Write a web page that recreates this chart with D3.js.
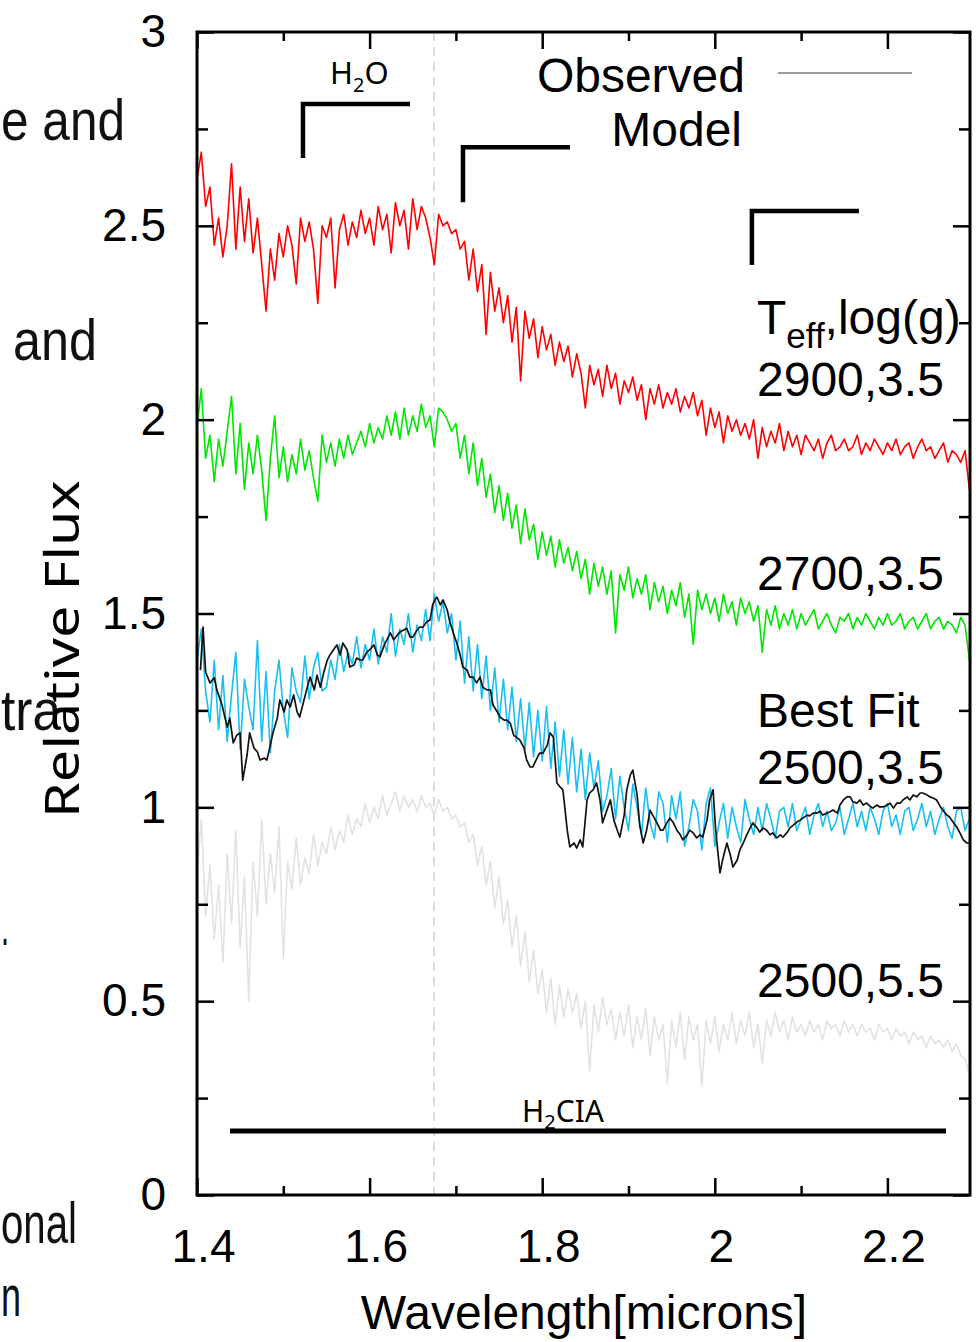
<!DOCTYPE html>
<html><head><meta charset="utf-8">
<script src="https://cdn.jsdelivr.net/npm/d3@7"></script>
<style>body{margin:0;background:#fff}svg{display:block}</style>
</head><body>
<svg id="c" width="976" height="1342"></svg>
<script>
// ---- data ----
const waveStart = 1.40, waveStep = 0.005, nPts = 180;
const wave = d3.range(nPts).map(i => +(waveStart + i * waveStep).toFixed(3));

const model2900_35 = [
2.62,2.69,2.55,2.60,2.45,2.52,2.42,2.50,2.66,2.44,
2.60,2.46,2.57,2.43,2.52,2.40,2.28,2.44,2.36,2.48,
2.42,2.50,2.45,2.35,2.52,2.46,2.51,2.44,2.30,2.50,
2.47,2.52,2.34,2.49,2.53,2.45,2.51,2.47,2.54,2.48,
2.52,2.45,2.55,2.49,2.53,2.43,2.56,2.50,2.54,2.44,
2.57,2.49,2.55,2.52,2.47,2.40,2.53,2.50,2.51,2.48,
2.49,2.44,2.46,2.36,2.44,2.33,2.40,2.22,2.38,2.28,
2.34,2.25,2.32,2.20,2.29,2.10,2.28,2.21,2.26,2.16,
2.24,2.18,2.22,2.14,2.20,2.15,2.19,2.11,2.17,2.12,
2.03,2.14,2.09,2.13,2.06,2.14,2.08,2.12,2.04,2.10,
2.07,2.11,2.05,2.09,2.00,2.08,2.04,2.09,2.03,2.07,
2.04,2.08,2.02,2.06,2.03,2.07,2.01,2.05,1.96,2.03,
1.98,2.02,1.94,2.01,1.97,2.00,1.96,1.99,1.95,2.00,
1.90,1.98,1.93,1.97,1.94,1.99,1.92,1.97,1.93,1.96,
1.91,1.96,1.94,1.92,1.95,1.90,1.94,1.96,1.92,1.93,
1.95,1.92,1.93,1.96,1.91,1.94,1.92,1.95,1.93,1.91,
1.94,1.92,1.95,1.91,1.93,1.94,1.90,1.93,1.95,1.92,
1.93,1.90,1.92,1.94,1.89,1.92,1.91,1.89,1.92,1.82];

const model2700_35 = [
1.98,2.08,1.90,1.96,1.84,1.95,1.88,1.97,2.06,1.86,
1.99,1.82,1.94,1.86,1.96,1.87,1.74,1.90,2.01,1.85,
1.93,1.84,1.91,1.86,1.95,1.87,1.92,1.85,1.79,1.96,
1.89,1.94,1.88,1.95,1.90,1.96,1.91,1.94,1.97,1.93,
1.99,1.94,1.98,1.95,2.01,1.96,2.02,1.95,2.03,1.96,
2.01,1.97,2.04,1.98,2.01,1.93,2.03,2.02,2.00,1.97,
1.99,1.90,1.96,1.86,1.94,1.83,1.90,1.80,1.86,1.76,
1.83,1.74,1.81,1.72,1.78,1.68,1.77,1.69,1.73,1.64,
1.71,1.65,1.70,1.62,1.69,1.63,1.67,1.61,1.66,1.59,
1.64,1.55,1.63,1.57,1.62,1.55,1.61,1.45,1.60,1.56,
1.62,1.54,1.59,1.55,1.60,1.51,1.58,1.53,1.57,1.50,
1.56,1.52,1.58,1.49,1.55,1.42,1.56,1.51,1.55,1.50,
1.54,1.48,1.55,1.50,1.53,1.47,1.54,1.50,1.53,1.48,
1.52,1.40,1.51,1.47,1.52,1.46,1.50,1.47,1.51,1.46,
1.50,1.47,1.49,1.51,1.46,1.48,1.50,1.47,1.45,1.49,
1.48,1.50,1.46,1.49,1.47,1.50,1.48,1.46,1.49,1.47,
1.50,1.47,1.48,1.50,1.46,1.48,1.49,1.46,1.48,1.50,
1.46,1.48,1.49,1.46,1.48,1.47,1.45,1.49,1.47,1.38];

const model2500_35 = [
1.38,1.46,1.30,1.22,1.38,1.20,1.34,1.17,1.29,1.40,
1.15,1.33,1.26,1.20,1.43,1.17,1.35,1.14,1.30,1.38,
1.25,1.18,1.36,1.30,1.27,1.39,1.28,1.36,1.40,1.30,
1.31,1.38,1.33,1.42,1.35,1.40,1.37,1.44,1.36,1.42,
1.38,1.46,1.37,1.44,1.40,1.50,1.39,1.46,1.42,1.50,
1.40,1.47,1.43,1.51,1.43,1.55,1.48,1.53,1.45,1.50,
1.38,1.48,1.32,1.44,1.30,1.42,1.28,1.39,1.25,1.36,
1.22,1.33,1.20,1.31,1.17,1.28,1.15,1.27,1.13,1.25,
1.12,1.26,1.10,1.22,1.08,1.20,1.06,1.18,1.04,1.15,
1.02,1.14,1.05,1.12,0.99,1.03,1.10,0.97,1.08,1.00,
0.94,1.06,1.00,0.93,1.05,0.96,0.92,1.04,1.01,0.91,
1.03,0.97,1.04,0.90,0.95,1.02,0.99,0.89,1.01,1.05,
0.90,0.96,1.01,0.92,1.00,0.95,0.91,1.02,0.97,0.93,
1.00,0.94,1.01,0.97,0.92,0.99,1.00,0.95,1.01,0.94,
0.97,1.00,0.93,0.98,1.01,0.95,0.99,0.94,0.96,1.00,
0.93,0.97,1.01,0.95,0.99,0.94,1.00,0.97,0.93,0.99,
1.01,0.95,0.98,0.93,0.99,1.00,0.94,0.97,1.01,0.95,
0.99,0.93,0.97,1.00,0.95,0.92,0.99,1.00,0.94,0.97];

const model2500_55 = [
0.82,0.97,0.72,0.85,0.66,0.80,0.60,0.88,0.70,0.94,
0.64,0.82,0.50,0.86,0.72,0.97,0.75,0.88,0.78,0.95,
0.61,0.86,0.79,0.92,0.80,0.87,0.83,0.93,0.85,0.91,
0.88,0.95,0.89,0.94,0.91,0.98,0.93,0.97,0.95,1.01,
0.96,1.00,0.97,1.03,0.98,1.01,1.04,0.99,1.03,1.00,
1.02,0.99,1.03,1.00,1.01,0.98,1.02,0.99,1.00,0.97,
0.98,0.95,0.96,0.91,0.93,0.85,0.90,0.80,0.86,0.74,
0.82,0.70,0.76,0.64,0.72,0.59,0.68,0.55,0.63,0.52,
0.58,0.47,0.56,0.44,0.54,0.46,0.53,0.47,0.52,0.43,
0.50,0.32,0.49,0.42,0.51,0.44,0.48,0.40,0.47,0.41,
0.49,0.38,0.46,0.40,0.48,0.36,0.46,0.40,0.44,0.29,
0.45,0.38,0.47,0.35,0.46,0.40,0.44,0.28,0.45,0.39,
0.46,0.37,0.44,0.40,0.47,0.39,0.45,0.41,0.47,0.38,
0.44,0.34,0.45,0.41,0.47,0.42,0.45,0.40,0.46,0.42,
0.44,0.41,0.45,0.42,0.44,0.40,0.45,0.43,0.44,0.41,
0.45,0.42,0.44,0.41,0.44,0.42,0.43,0.40,0.44,0.42,
0.43,0.40,0.43,0.41,0.42,0.39,0.42,0.40,0.41,0.38,
0.41,0.39,0.40,0.38,0.40,0.37,0.39,0.36,0.35,0.31];

const obsWave = [
1.404,1.407,1.410,1.415,1.420,1.423,1.429,1.435,1.438,1.442,1.446,1.450,1.453,1.458,1.461,1.466,1.470,1.473,1.478,1.481,
1.485,1.488,1.493,1.496,1.501,1.504,1.508,1.512,1.516,1.519,1.524,1.527,1.531,1.536,1.539,1.543,1.547,1.551,1.554,1.558,
1.562,1.566,1.569,1.574,1.577,1.582,1.585,1.589,1.592,1.597,1.600,1.605,1.609,1.612,1.617,1.620,1.624,1.628,1.632,1.635,
1.639,1.643,1.647,1.650,1.655,1.658,1.662,1.666,1.670,1.673,1.677,1.678,1.682,1.685,1.690,1.693,1.697,1.701,1.705,1.708,
1.713,1.716,1.720,1.724,1.728,1.731,1.736,1.740,1.743,1.748,1.751,1.756,1.759,1.763,1.767,1.771,1.774,1.779,1.782,1.786,
1.789,1.794,1.797,1.801,1.806,1.809,1.813,1.817,1.821,1.824,1.829,1.832,1.837,1.840,1.844,1.847,1.852,1.855,1.859,1.863,
1.867,1.870,1.875,1.879,1.883,1.887,1.890,1.895,1.898,1.902,1.905,1.910,1.913,1.917,1.921,1.925,1.928,1.933,1.937,1.940,
1.945,1.948,1.952,1.956,1.960,1.963,1.968,1.971,1.975,1.979,1.983,1.986,1.991,1.994,1.998,2.001,2.006,2.009,2.014,2.018,
2.021,2.026,2.029,2.033,2.037,2.041,2.044,2.049,2.052,2.056,2.060,2.064,2.067,2.072,2.076,2.079,2.084,2.087,2.091,2.095,
2.099,2.102,2.107,2.110,2.114,2.118,2.122,2.125,2.130,2.133,2.137,2.142,2.145,2.149,2.153,2.157,2.160,2.165,2.168,2.172,
2.176,2.180,2.183,2.188,2.191,2.195,2.200,2.203,2.207,2.211,2.215,2.218,2.223,2.226,2.230,2.234,2.238,2.241,2.246,2.249,
2.253,2.257,2.261,2.264,2.269,2.272,2.276,2.281,2.284,2.288,2.292,2.296];

const obsFlux = [
1.354,1.465,1.349,1.321,1.334,1.303,1.264,1.207,1.230,1.166,1.186,1.192,1.070,1.135,1.192,1.153,1.143,1.122,1.127,1.122,
1.161,1.192,1.230,1.277,1.246,1.277,1.259,1.290,1.246,1.233,1.277,1.303,1.336,1.303,1.341,1.310,1.349,1.380,1.393,1.406,
1.419,1.393,1.424,1.406,1.362,1.367,1.385,1.380,1.380,1.401,1.406,1.419,1.393,1.388,1.419,1.432,1.450,1.432,1.444,1.452,
1.457,1.462,1.439,1.439,1.457,1.465,1.465,1.478,1.483,1.522,1.540,1.542,1.522,1.535,1.509,1.478,1.450,1.424,1.393,1.362,
1.354,1.336,1.336,1.321,1.336,1.310,1.303,1.303,1.264,1.246,1.233,1.225,1.225,1.217,1.186,1.179,1.174,1.153,1.122,1.104,
1.104,1.127,1.140,1.140,1.161,1.192,1.181,1.063,1.052,1.045,0.941,0.898,0.908,0.895,0.916,0.898,1.019,1.037,1.045,1.063,
1.019,0.960,0.993,1.019,0.967,0.941,0.923,0.980,1.045,1.083,1.096,1.032,0.954,0.908,0.941,0.993,0.980,0.960,0.941,0.941,
0.962,0.972,0.960,0.941,0.929,0.916,0.929,0.941,0.934,0.921,0.929,0.923,0.967,1.019,1.045,0.941,0.831,0.864,0.908,0.877,
0.846,0.864,0.890,0.908,0.929,0.947,0.960,0.947,0.936,0.947,0.941,0.929,0.934,0.921,0.929,0.923,0.936,0.947,0.954,0.962,
0.967,0.972,0.980,0.978,0.985,0.985,0.990,0.980,0.985,0.988,0.993,0.985,1.006,1.019,1.027,1.027,1.014,1.011,1.019,1.006,
1.011,1.003,0.998,1.006,1.001,1.001,1.006,1.011,0.998,1.011,1.011,1.019,1.027,1.019,1.032,1.027,1.037,1.037,1.032,1.027,
1.024,1.019,1.003,0.993,0.980,0.975,0.962,0.947,0.934,0.916,0.908,0.908];

const xMajor = [1.4, 1.6, 1.8, 2.0, 2.2];
const xMinor = [1.5, 1.7, 1.9, 2.1];
const yMajor = [0, 0.5, 1, 1.5, 2, 2.5, 3];
const yMinor = [0.25, 0.75, 1.25, 1.75, 2.25, 2.75];

const peakWave = 1.6746;
const h2oBands = [[1.5228, 1.6468, 2.814, 2.675], [1.7082, 1.8322, 2.703, 2.561], [2.043, 2.167, 2.538, 2.399]];
const ciaBand = [1.4382, 2.2679, 0.165];

const modelLabels = [["2900,3.5", 396], ["2700,3.5", 590], ["Best Fit", 727], ["2500,3.5", 784], ["2500,5.5", 997]];

// ---- drawing ----
const svg = d3.select("#c");
const L = 197, R = 970, T = 32, B = 1195;
const x = d3.scaleLinear().domain([1.4, 2.3]).range([197, 973.7]);
const y = d3.scaleLinear().domain([0, 3]).range([B, T]);
const sans = "'Liberation Sans', Arial, Helvetica, sans-serif";
const noto = "'Noto Sans', 'Open Sans', sans-serif";

svg.append("rect").attr("width", 976).attr("height", 1342).attr("fill", "#fff");

// background text fragments on the left (kept inside the picture)
const frag = [["e and", 1, 140, 124], ["and", 13, 360, 84], ["tra", 1, 730, 60], [".", 1, 945, 8], ["onal", 1, 1243, 76], ["n", 1, 1316, 20]];
svg.append("g").selectAll("text").data(frag).join("text")
  .attr("x", d => d[1]).attr("y", d => d[2])
  .attr("textLength", d => d[3]).attr("lengthAdjust", "spacingAndGlyphs")
  .attr("font-family", sans).attr("font-size", 58).attr("fill", "#111")
  .text(d => d[0]);

svg.append("defs").append("clipPath").attr("id", "plotclip")
  .append("rect").attr("x", L).attr("y", T).attr("width", R - L).attr("height", B - T);

// dashed reference line
svg.append("line").attr("x1", x(peakWave)).attr("x2", x(peakWave)).attr("y1", T).attr("y2", B)
  .attr("stroke", "#dcdcdc").attr("stroke-width", 2).attr("stroke-dasharray", "9,6");

const plot = svg.append("g").attr("clip-path", "url(#plotclip)");
const lineGen = d3.line().x(d => x(d[0])).y(d => y(d[1]));
const series = [
  [model2500_55, "#e2e2e2"],
  [model2900_35, "#ff0000"],
  [model2700_35, "#00e600"],
  [model2500_35, "#18bff0"]
];
series.forEach(([vals, col]) => {
  plot.append("path").datum(d3.zip(wave, vals)).attr("d", lineGen)
    .attr("fill", "none").attr("stroke", col).attr("stroke-width", 1.6).attr("stroke-linejoin", "round");
});
plot.append("path").datum(d3.zip(obsWave, obsFlux)).attr("d", lineGen)
  .attr("fill", "none").attr("stroke", "#111").attr("stroke-width", 1.7).attr("stroke-linejoin", "round");

// H2O brackets
svg.append("g").selectAll("path").data(h2oBands).join("path")
  .attr("d", d => `M${x(d[0])},${y(d[3])}V${y(d[2])}H${x(d[1])}`)
  .attr("fill", "none").attr("stroke", "#000").attr("stroke-width", 4.5);
// H2 CIA bar
svg.append("line").attr("x1", x(ciaBand[0])).attr("x2", x(ciaBand[1]))
  .attr("y1", y(ciaBand[2])).attr("y2", y(ciaBand[2]))
  .attr("stroke", "#000").attr("stroke-width", 5);

// axes
function styleAxis(g) {
  g.select(".domain").remove();
  g.selectAll(".tick line").attr("stroke", "#000").attr("stroke-width", 2.5);
  g.selectAll("text").attr("font-family", sans).attr("font-size", 46).attr("fill", "#000");
}
const fmt = d3.format("~g");
svg.append("g").attr("transform", `translate(0,${B})`)
  .call(d3.axisBottom(x).tickValues(xMajor).tickSize(-17).tickPadding(34).tickFormat(fmt)).call(styleAxis)
  .selectAll("text").attr("dx", 6);
svg.append("g").attr("transform", `translate(0,${B})`)
  .call(d3.axisBottom(x).tickValues(xMinor).tickSize(-9).tickFormat("")).call(styleAxis);
svg.append("g").attr("transform", `translate(0,${T})`)
  .call(d3.axisTop(x).tickValues(xMajor).tickSize(-17).tickFormat("")).call(styleAxis);
svg.append("g").attr("transform", `translate(0,${T})`)
  .call(d3.axisTop(x).tickValues(xMinor).tickSize(-9).tickFormat("")).call(styleAxis);
svg.append("g").attr("transform", `translate(${L},0)`)
  .call(d3.axisLeft(y).tickValues(yMajor).tickSize(-17).tickPadding(31).tickFormat(fmt)).call(styleAxis);
svg.append("g").attr("transform", `translate(${L},0)`)
  .call(d3.axisLeft(y).tickValues(yMinor).tickSize(-11).tickFormat("")).call(styleAxis);
svg.append("g").attr("transform", `translate(${R},0)`)
  .call(d3.axisRight(y).tickValues(yMajor).tickSize(-17).tickFormat("")).call(styleAxis);
svg.append("g").attr("transform", `translate(${R},0)`)
  .call(d3.axisRight(y).tickValues(yMinor).tickSize(-11).tickFormat("")).call(styleAxis);

// frame
svg.append("rect").attr("x", L).attr("y", T).attr("width", R - L).attr("height", B - T)
  .attr("fill", "none").attr("stroke", "#000").attr("stroke-width", 3);

// axis titles
svg.append("text").attr("x", 584).attr("y", 1329).attr("text-anchor", "middle")
  .attr("font-family", sans).attr("font-size", 48).attr("fill", "#000").text("Wavelength[microns]");
svg.append("text").attr("transform", "translate(79,649) rotate(-90)").attr("text-anchor", "middle")
  .attr("font-family", noto).attr("font-size", 48).attr("textLength", 338).attr("lengthAdjust", "spacingAndGlyphs")
  .attr("fill", "#000").text("Relative Flux");

// H2O and H2CIA labels
const h2o = svg.append("text").attr("x", 330).attr("y", 84).attr("font-family", noto).attr("font-size", 31).attr("fill", "#000");
h2o.append("tspan").text("H");
h2o.append("tspan").attr("font-size", 20).attr("dy", 8).text("2");
h2o.append("tspan").attr("dy", -8).text("O");
const cia = svg.append("text").attr("x", 522).attr("y", 1122).attr("font-family", noto).attr("font-size", 30).attr("fill", "#000");
cia.append("tspan").text("H");
cia.append("tspan").attr("font-size", 20).attr("dy", 7).text("2");
cia.append("tspan").attr("dy", -7).text("CIA");

// legend
svg.append("text").attr("x", 745).attr("y", 92).attr("text-anchor", "end")
  .attr("font-family", sans).attr("font-size", 48).attr("fill", "#000").text("Observed");
svg.append("line").attr("x1", 778).attr("x2", 912).attr("y1", 73).attr("y2", 73)
  .attr("stroke", "#777").attr("stroke-width", 1.6);
svg.append("text").attr("x", 742).attr("y", 146).attr("text-anchor", "end")
  .attr("font-family", sans).attr("font-size", 48).attr("fill", "#000").text("Model");

// right-hand labels
const teff = svg.append("text").attr("x", 757).attr("y", 334).attr("font-family", sans).attr("font-size", 48).attr("fill", "#000");
teff.append("tspan").text("T");
teff.append("tspan").attr("font-size", 35).attr("dy", 14).text("eff");
teff.append("tspan").attr("dy", -14).text(",log(g)");
svg.append("g").selectAll("text").data(modelLabels).join("text")
  .attr("x", 757).attr("y", d => d[1]).attr("font-family", sans).attr("font-size", 48).attr("fill", "#000")
  .text(d => d[0]);
</script>
</body></html>
